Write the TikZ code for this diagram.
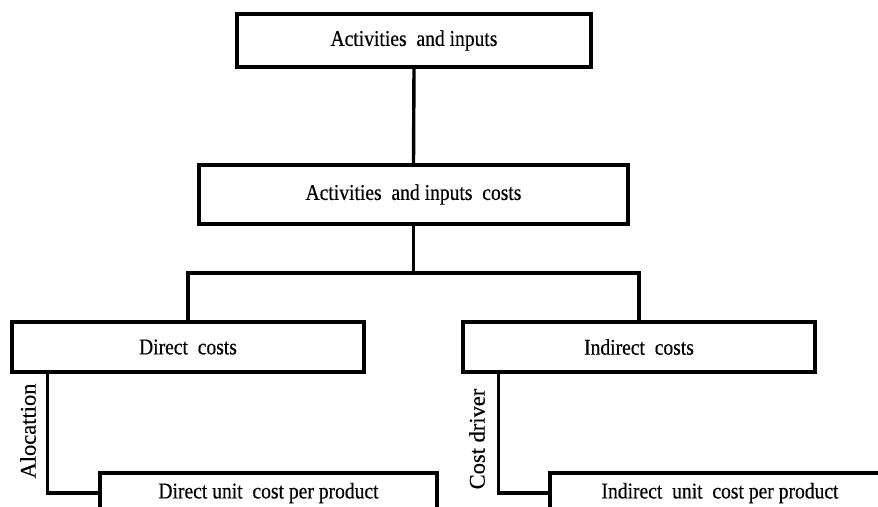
\documentclass[tikz,border=0pt]{standalone}
\usepackage{fontspec}
\setmainfont[FakeStretch=0.87,FakeBold=0.4]{Liberation Serif}
\newfontfamily\rotfont[FakeBold=0.4]{Liberation Serif}
\begin{document}
\begin{tikzpicture}[x=1pt,y=1pt,
  box/.style={draw=black, line width=3.4pt, fill=white, rectangle, inner sep=0pt,
    font=\fontsize{22.5}{27}\selectfont},
  conn/.style={draw=black, line width=3.4pt},
  vlabel/.style={rotate=90, inner sep=0pt, font=\rotfont\fontsize{22.5}{27}\selectfont}]
\clip (0,0) rectangle (878,506);
\fill[white] (0,0) rectangle (878,506);
\node[box, minimum width=354pt, minimum height=53pt] (top) at (414,465.5) {Activities\ \ and inputs};
\node[box, minimum width=429pt, minimum height=59pt] (mid) at (413.5,311.5) {Activities\ \ and inputs\ \ costs};
\node[box, minimum width=352pt, minimum height=50pt] (direct) at (188,159) {Direct\ \ costs};
\node[box, minimum width=352pt, minimum height=50pt] (indirect) at (639,159) {Indirect\ \ costs};
\node[box, minimum width=337pt, minimum height=40pt] (dunit) at (268.5,13) {Direct\ unit\ \ cost per product};
\node[box, minimum width=340pt, minimum height=40pt] (iunit) at (720,13) {Indirect\ \ unit\ \ cost per product};
\coordinate (bus) at (414,233);
\draw[conn] (top.south) -- (mid.north);
\draw[conn] (mid.south) -- (mid.south |- bus);
\draw[conn] (direct.north) |- (bus) -| (indirect.north);
\draw[conn] ([xshift=37pt]direct.south west) |- (dunit.west);
\draw[conn] ([xshift=37pt]indirect.south west) |- (iunit.west);
\node[vlabel] (alloc) at (28,75) {Alocattion};
\node[vlabel] (driver) at (477,67) {Cost driver};
\end{tikzpicture}
\end{document}
